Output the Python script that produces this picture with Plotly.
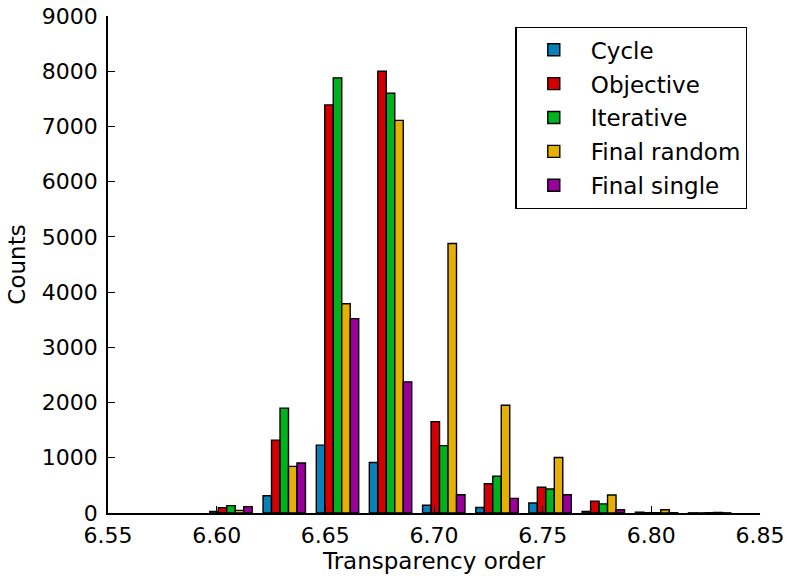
import plotly.graph_objects as go

bin_centers = [6.6066, 6.6311, 6.6556, 6.6800, 6.7045, 6.7290, 6.7534, 6.7779, 6.8024, 6.8268]

series_names = ["Cycle", "Objective", "Iterative", "Final random", "Final single"]
cycle        = [30, 313, 1230, 915, 140, 100, 180, 30, 15, 3]
objective    = [97, 1320, 7390, 8000, 1655, 530, 465, 215, 5, 2]
iterative    = [133, 1900, 7880, 7600, 1220, 665, 435, 165, 5, 5]
final_random = [48, 845, 3790, 7110, 4880, 1950, 1005, 325, 58, 10]
final_single = [115, 905, 3520, 2375, 330, 265, 330, 60, 5, 3]

colors = ["#0a80b8", "#d20000", "#00b21e", "#e6b000", "#990099"]

x_ticks = [6.55, 6.60, 6.65, 6.70, 6.75, 6.80, 6.85]
y_ticks = [0, 1000, 2000, 3000, 4000, 5000, 6000, 7000, 8000, 9000]

font = "DejaVu Sans"

fig = go.Figure()
for name, vals, col in zip(series_names,
                           [cycle, objective, iterative, final_random, final_single],
                           colors):
    fig.add_trace(go.Bar(x=bin_centers, y=vals, name=name, legendgroup=name,
                         marker=dict(color=col, line=dict(color="black", width=1.4))))

fig.update_layout(
    width=787, height=578,
    margin=dict(l=108, r=27, t=16, b=65, autoexpand=False),
    paper_bgcolor="white", plot_bgcolor="white",
    barmode="group", bargap=0.2, bargroupgap=0,
    font=dict(family=font, size=22, color="black"),
    legend=dict(x=0.625, y=0.978, xanchor="left", yanchor="top",
                bordercolor="black", borderwidth=1.3, bgcolor="white",
                font=dict(family=font, size=23), itemwidth=64,
                tracegroupgap=1),
    showlegend=True,
)
fig.update_xaxes(range=[6.55, 6.85], tickvals=x_ticks,
                 ticktext=[f"{v:.2f}" for v in x_ticks],
                 ticks="inside", ticklen=7, tickwidth=1.2, tickcolor="black",
                 showline=True, linecolor="black", linewidth=1.5,
                 showgrid=False, zeroline=False, automargin=False,
                 title=dict(text="Transparency order", standoff=3,
                            font=dict(size=23)),
                 ticklabelstandoff=2)
fig.update_yaxes(range=[0, 9000], tickvals=y_ticks,
                 ticks="inside", ticklen=7, tickwidth=1.2, tickcolor="black",
                 showline=True, linecolor="black", linewidth=1.5,
                 showgrid=False, zeroline=False, automargin=False,
                 title=dict(text="Counts", standoff=10, font=dict(size=23)),
                 ticklabelstandoff=4)

fig.write_html("out.html", config={"displayModeBar": False},
               post_script="document.body.style.margin='0';")
